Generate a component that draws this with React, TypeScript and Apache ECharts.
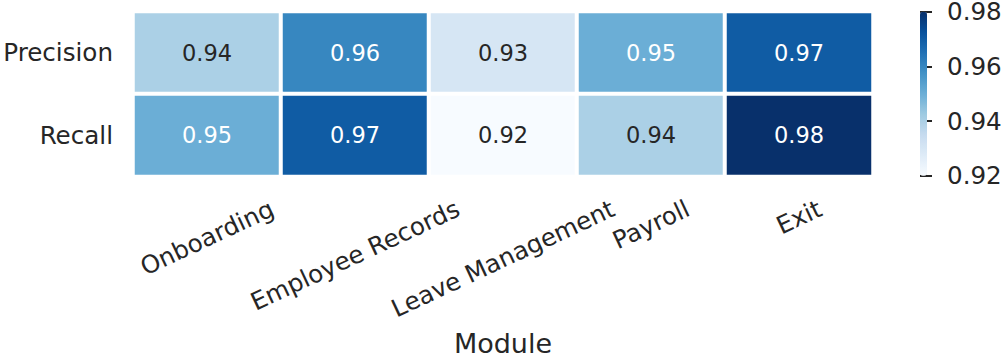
import React, { useEffect, useRef } from "react";
import * as echarts from "echarts";

const modules = ["Onboarding", "Employee Records", "Leave Management", "Payroll", "Exit"];
const metrics = ["Precision", "Recall"];
const precisionValues = [0.94, 0.96, 0.93, 0.95, 0.97];
const recallValues = [0.95, 0.97, 0.92, 0.94, 0.98];
const colorMin = 0.92;
const colorMax = 0.98;
const colorStep = 0.02;
const blues = ["#f7fbff", "#deebf7", "#c6dbef", "#9ecae1", "#6baed6", "#4292c6", "#2171b5", "#08519c", "#08306b"];

const FONT = "DejaVu Sans";
const TEXT = "#262626";
const TICK_SIZE = 24.6;
const ROT = 25;
const LABEL_GAP = 19.5;

function hexToRgb(h: string) {
  const n = parseInt(h.slice(1), 16);
  return [(n >> 16) & 255, (n >> 8) & 255, n & 255];
}

function blueAt(t: number) {
  const x = Math.max(0, Math.min(1, t)) * (blues.length - 1);
  const i = Math.min(blues.length - 2, Math.floor(x));
  const f = x - i;
  const a = hexToRgb(blues[i]);
  const b = hexToRgb(blues[i + 1]);
  return a.map((v, k) => v + (b[k] - v) * f);
}

function luminance(rgb: number[]) {
  const c = rgb.map((v) => {
    const s = v / 255;
    return s <= 0.03928 ? s / 12.92 : Math.pow((s + 0.055) / 1.055, 2.4);
  });
  return 0.2126 * c[0] + 0.7152 * c[1] + 0.0722 * c[2];
}

function measure(text: string, size: number) {
  const ctx = document.createElement("canvas").getContext("2d")!;
  ctx.font = `${size}px "${FONT}"`;
  return ctx.measureText(text).width;
}

export default function App() {
  const ref = useRef<HTMLDivElement>(null);
  useEffect(() => {
    const chart = echarts.init(ref.current!, null, { renderer: "svg" });
    const rows = [precisionValues, recallValues];
    const data: any[] = [];
    rows.forEach((vals, j) => {
      vals.forEach((v, i) => {
        const lum = luminance(blueAt((v - colorMin) / (colorMax - colorMin)));
        data.push({ value: [i, j, v], label: { color: lum > 0.408 ? TEXT : "#ffffff" } });
      });
    });
    const th = (ROT * Math.PI) / 180;
    // matplotlib-style rotated tick labels: rotated box centred on the tick, its top a fixed gap below the axis
    const drops = modules.map((m) => {
      const w = measure(m, TICK_SIZE);
      return LABEL_GAP + (w * Math.sin(th) + TICK_SIZE * Math.cos(th)) / 2;
    });
    chart.setOption({
      animation: false,
      textStyle: { fontFamily: FONT },
      grid: [
        { left: 133, top: 11.6, width: 740, height: 165, containLabel: false, outerBoundsMode: "none" },
        { left: 920, top: 11.7, width: 7, height: 164, containLabel: false, outerBoundsMode: "none" },
      ],
      xAxis: [
        {
          type: "category",
          gridIndex: 0,
          data: modules,
          axisLine: { show: false },
          axisTick: { show: false },
          splitLine: { show: false },
          axisLabel: { show: false },
          name: "Module",
          nameLocation: "middle",
          nameGap: 153,
          nameTextStyle: { fontSize: 27, color: TEXT, fontFamily: FONT },
        },
        { type: "value", gridIndex: 1, show: false, min: 0, max: 1 },
      ],
      yAxis: [
        {
          type: "category",
          gridIndex: 0,
          data: metrics,
          inverse: true,
          axisLine: { show: false },
          axisTick: { show: false },
          splitLine: { show: false },
          axisLabel: { margin: 20, fontSize: TICK_SIZE, color: TEXT, fontFamily: FONT },
        },
        {
          type: "value",
          gridIndex: 1,
          position: "right",
          min: colorMin,
          max: colorMax,
          interval: colorStep,
          axisLine: { show: false },
          splitLine: { show: false },
          axisTick: { show: true, length: 12, lineStyle: { color: TEXT, width: 2 } },
          axisLabel: {
            margin: 20,
            fontSize: TICK_SIZE,
            color: TEXT,
            fontFamily: FONT,
            formatter: (v: number) => v.toFixed(2),
          },
        },
        { type: "value", gridIndex: 0, show: false, min: 0, max: 1 },
      ],
      visualMap: {
        type: "continuous",
        min: colorMin,
        max: colorMax,
        seriesIndex: 0,
        calculable: false,
        left: 920,
        top: 11.7,
        itemWidth: 7,
        itemHeight: 164,
        padding: 0,
        inRange: { color: blues },
        hoverLink: false,
      },
      series: [
        {
          type: "heatmap",
          xAxisIndex: 0,
          yAxisIndex: 0,
          data,
          itemStyle: { borderColor: "#ffffff", borderWidth: 4 },
          label: {
            show: true,
            fontSize: 22.5,
            fontFamily: FONT,
            formatter: (p: any) => p.value[2].toFixed(2),
          },
          emphasis: { disabled: true },
        },
        {
          type: "custom",
          xAxisIndex: 0,
          yAxisIndex: 2,
          clip: false,
          silent: true,
          data: modules.map((m, i) => [i, 0]),
          renderItem: (params: any, api: any) => {
            const i = api.value(0);
            const p = api.coord([i, 0]);
            return {
              type: "text",
              x: p[0],
              y: p[1] + drops[i],
              rotation: th,
              style: {
                text: modules[i],
                fill: TEXT,
                fontSize: TICK_SIZE,
                fontFamily: FONT,
                align: "center",
                verticalAlign: "middle",
              },
            };
          },
        },
      ],
    });
    return () => chart.dispose();
  }, []);
  return (
    <div
      ref={ref}
      style={{ position: "fixed", left: 0, top: 0, width: 1005, height: 358, background: "#ffffff" }}
    />
  );
}
